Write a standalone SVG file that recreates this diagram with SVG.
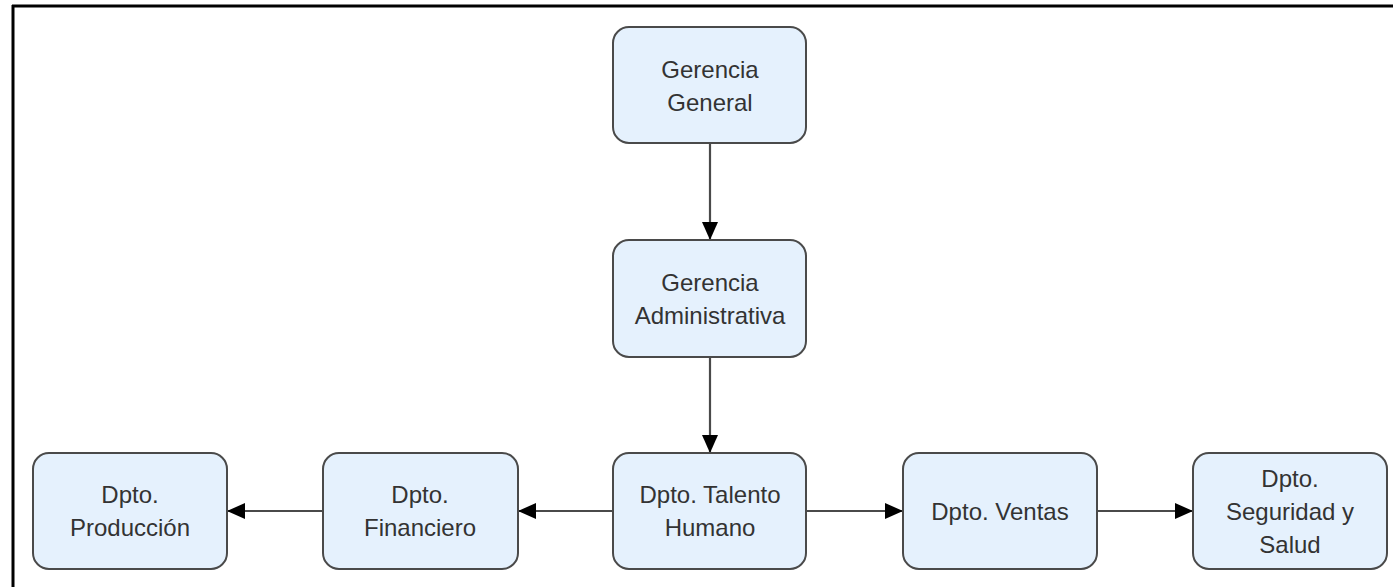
<svg xmlns="http://www.w3.org/2000/svg" width="1393" height="587" viewBox="0 0 1393 587">
  <style>
    .box { fill: #e5f1fd; stroke: #4a4a4a; stroke-width: 2; }
    .lbl { font-family: "Liberation Sans", Arial, sans-serif; font-size: 24px; fill: #333333; text-anchor: middle; }
    .edge { stroke: #4a4a4a; stroke-width: 2.2; fill: none; marker-end: url(#arrow); }
  </style>
  <defs>
    <marker id="arrow" viewBox="0 0 18 16" refX="18" refY="8" markerWidth="18" markerHeight="16" markerUnits="userSpaceOnUse" orient="auto">
      <path d="M0,0 L18,8 L0,16 Z" fill="#000000"/>
    </marker>
  </defs>
  <rect width="1393" height="587" fill="#ffffff"/>
  <!-- frame edges (top and left) -->
  <g id="frame">
    <line x1="12" y1="6" x2="1393" y2="6" stroke="#000000" stroke-width="3"/>
    <line x1="13" y1="5" x2="13" y2="587" stroke="#000000" stroke-width="3"/>
  </g>

  <g id="connectors">
    <line class="edge" x1="710" y1="143" x2="710" y2="240"/>
    <line class="edge" x1="710" y1="357" x2="710" y2="453"/>
    <line class="edge" x1="613" y1="511" x2="518" y2="511"/>
    <line class="edge" x1="323" y1="511" x2="227" y2="511"/>
    <line class="edge" x1="806" y1="511" x2="903" y2="511"/>
    <line class="edge" x1="1097" y1="511" x2="1193" y2="511"/>
  </g>

  <g id="gerencia-general">
    <rect class="box" x="613" y="27" width="193" height="116" rx="16"/>
    <text class="lbl" x="710" y="78">Gerencia</text>
    <text class="lbl" x="710" y="111">General</text>
  </g>
  <g id="gerencia-administrativa">
    <rect class="box" x="613" y="240" width="193" height="117" rx="16"/>
    <text class="lbl" x="710" y="291">Gerencia</text>
    <text class="lbl" x="710" y="324">Administrativa</text>
  </g>
  <g id="dpto-talento-humano">
    <rect class="box" x="613" y="453" width="193" height="116" rx="16"/>
    <text class="lbl" x="710" y="503">Dpto. Talento</text>
    <text class="lbl" x="710" y="536">Humano</text>
  </g>
  <g id="dpto-financiero">
    <rect class="box" x="323" y="453" width="195" height="116" rx="16"/>
    <text class="lbl" x="420" y="503">Dpto.</text>
    <text class="lbl" x="420" y="536">Financiero</text>
  </g>
  <g id="dpto-produccion">
    <rect class="box" x="33" y="453" width="194" height="116" rx="16"/>
    <text class="lbl" x="130" y="503">Dpto.</text>
    <text class="lbl" x="130" y="536">Producción</text>
  </g>
  <g id="dpto-ventas">
    <rect class="box" x="903" y="453" width="194" height="116" rx="16"/>
    <text class="lbl" x="1000" y="520">Dpto. Ventas</text>
  </g>
  <g id="dpto-seguridad-salud">
    <rect class="box" x="1193" y="453" width="194" height="116" rx="16"/>
    <text class="lbl" x="1290" y="487">Dpto.</text>
    <text class="lbl" x="1290" y="520">Seguridad y</text>
    <text class="lbl" x="1290" y="553">Salud</text>
  </g>
</svg>
